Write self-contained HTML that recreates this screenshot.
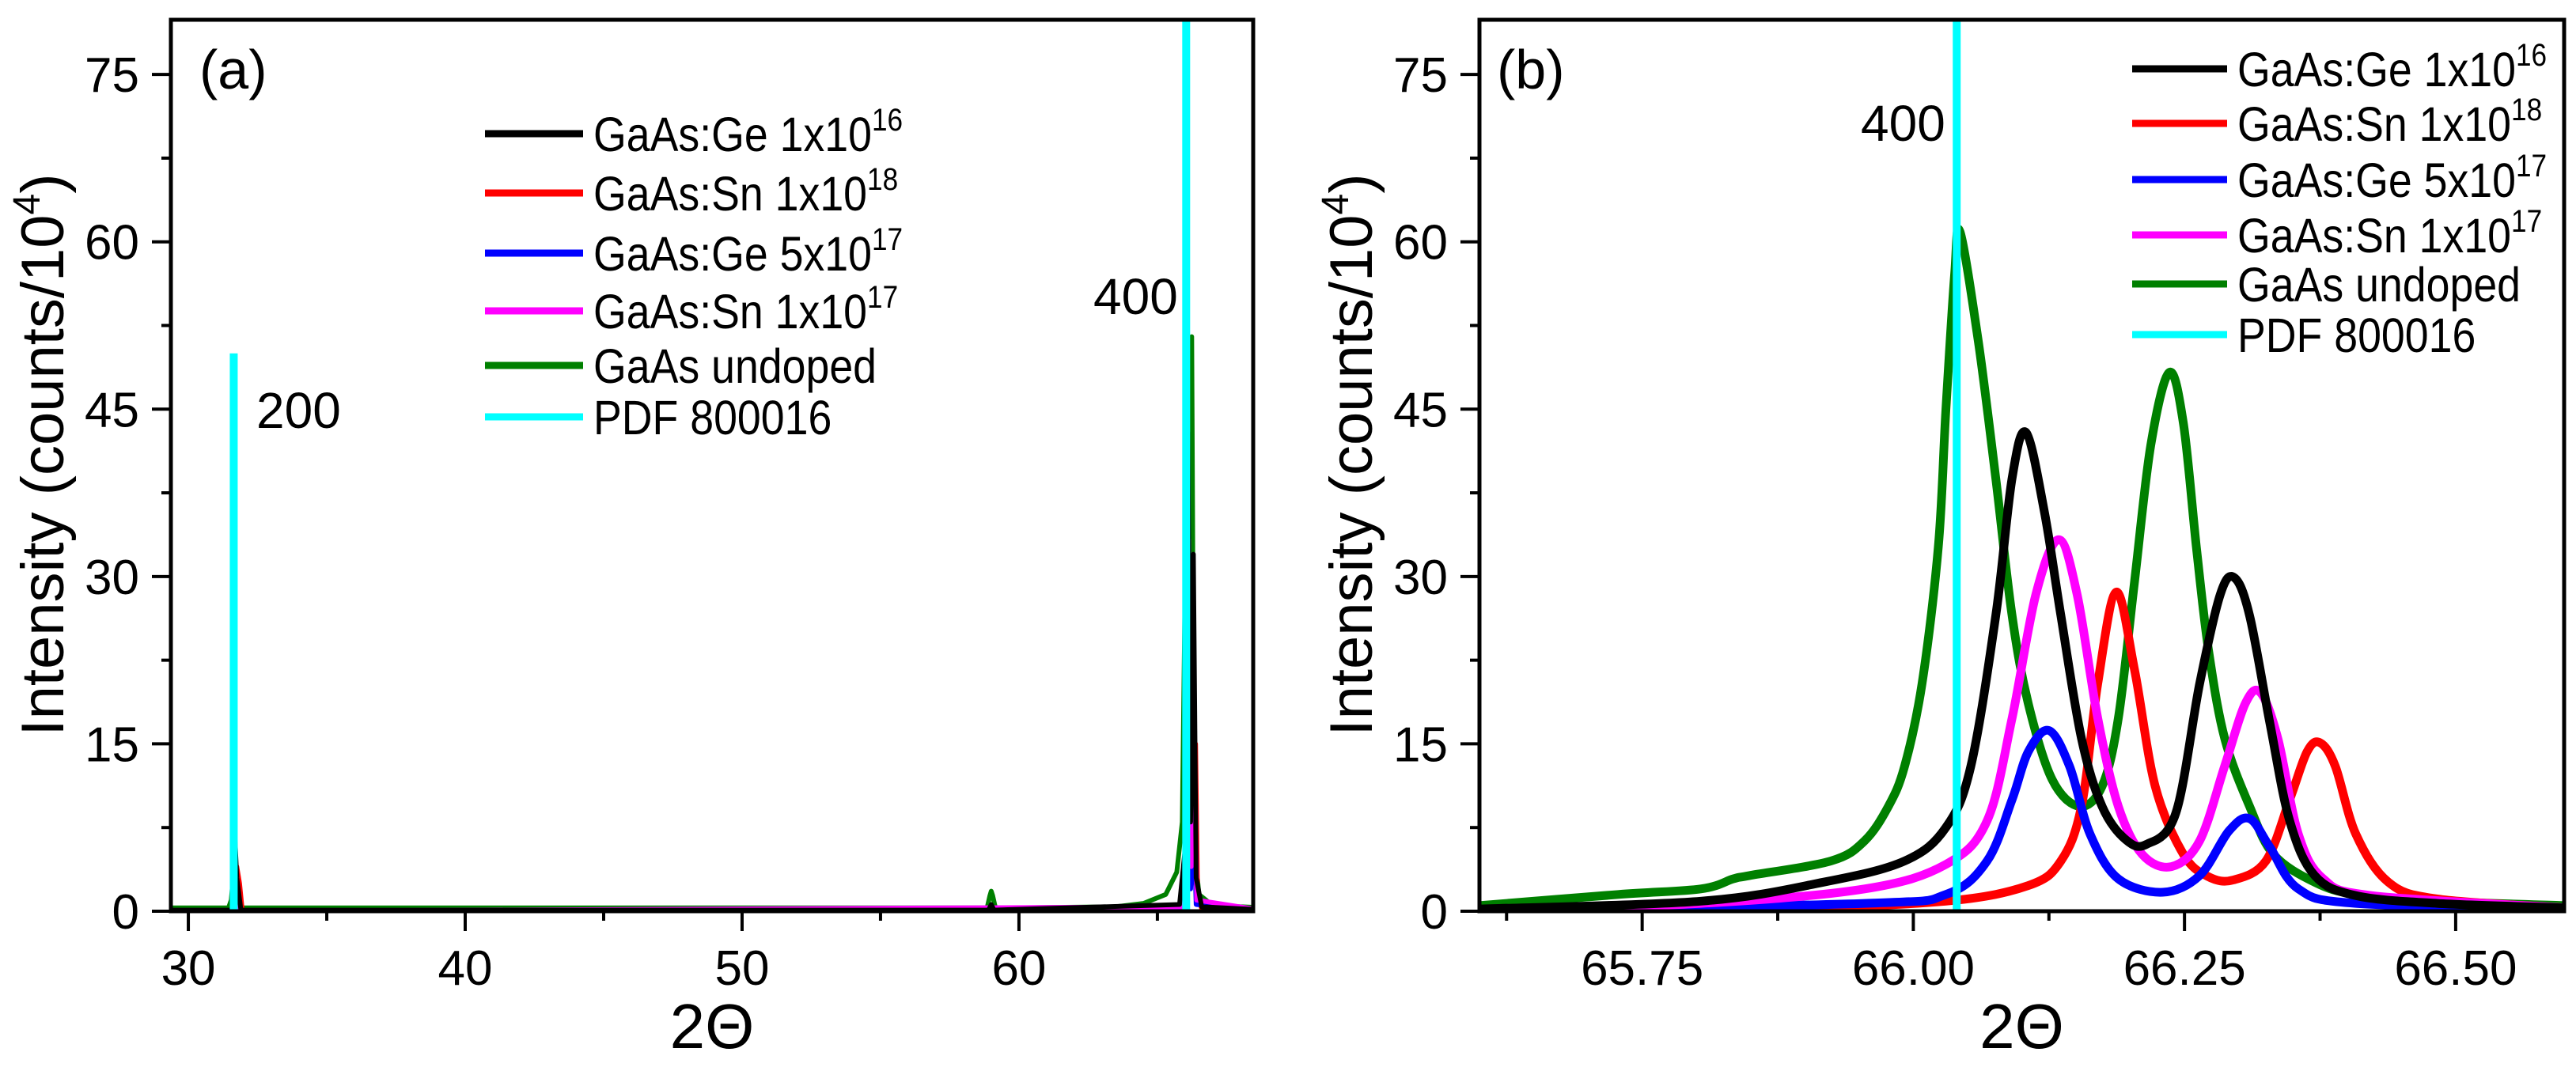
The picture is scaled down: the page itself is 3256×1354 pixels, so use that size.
<!DOCTYPE html>
<html><head><meta charset="utf-8"><style>
html,body{margin:0;padding:0;background:#fff}
svg{display:block;font-family:"Liberation Sans",Arial,sans-serif}
</style></head><body>
<svg id="fig" width="3256" height="1354" viewBox="0 0 3256 1354" xmlns="http://www.w3.org/2000/svg">
<defs>
<clipPath id="clipA"><rect x="216" y="25" width="1368" height="1127"/></clipPath>
<clipPath id="clipB"><rect x="1870" y="25" width="1371" height="1127"/></clipPath>
</defs>
<g id="panelA"></g>
<g id="panelB"></g>
</svg>
<script>
// ---------- Data ----------
const seriesNames = ["GaAs:Ge 1x10", "GaAs:Sn 1x10", "GaAs:Ge 5x10", "GaAs:Sn 1x10", "GaAs undoped", "PDF 800016"];
const seriesSup = ["16", "18", "17", "17", "", ""];
const seriesColors = ["#000000", "#ff0000", "#0000ff", "#ff00ff", "#008000", "#00ffff"];
const yTicks = [0, 15, 30, 45, 60, 75];
const yMinor = [7.5, 22.5, 37.5, 52.5, 67.5];
const xTicksA = [30, 40, 50, 60];
const xMinorA = [35, 45, 55, 65];
const xTicksB = [65.75, 66.00, 66.25, 66.50];
const xTickLabelsB = ["65.75", "66.00", "66.25", "66.50"];
const xMinorB = [65.625, 65.875, 66.125, 66.375];
const pdfPos = [31.64, 66.04];
const pdfInt = [50, 80];

// Panel (b) series
const bBlackX = [65.6,65.804,65.917,65.992,66.03,66.053,66.076,66.091,66.104,66.121,66.136,66.155,66.174,66.196,66.215,66.242,66.264,66.283,66.296,66.31,66.329,66.347,66.37,66.408,66.483,66.6];
const bBlackY = [0.2,0.9,2.6,4.5,7.5,13,26.5,38.8,42.9,35.7,26.5,15.5,9.4,6.4,6.0,8.8,20.4,28.4,29.9,26.5,16.7,8.1,3.2,1.4,0.7,0.3];
const bRedX = [65.6,65.879,66.03,66.106,66.136,66.155,66.17,66.187,66.204,66.223,66.249,66.272,66.295,66.325,66.347,66.363,66.375,66.389,66.408,66.438,66.483,66.6];
const bRedY = [0,0.3,0.9,2.3,4.5,9.4,20.4,28.6,21.6,11.2,5.1,3.1,2.8,4.5,10,14.3,15.1,13,6.9,2.6,1.1,0.3];
const bBlueX = [65.6,65.955,66.03,66.068,66.091,66.106,66.125,66.144,66.163,66.189,66.23,66.264,66.291,66.31,66.329,66.355,66.408,66.6];
const bBlueY = [0,0.7,1.5,4.5,10,14.3,16.2,13,6.9,2.9,1.7,3.2,7.2,8.3,5.7,2.0,0.7,0.2];
const bMagX = [65.6,65.804,65.955,66.03,66.068,66.091,66.113,66.134,66.151,66.17,66.189,66.211,66.238,66.264,66.287,66.306,66.32,66.336,66.355,66.378,66.423,66.6];
const bMagY = [0.1,0.7,2.0,4.2,8.1,17.3,28.4,33.3,28.4,17.3,9.4,5.1,4.0,6.3,13,18.6,19.6,15.5,6.9,2.9,1.4,0.3];
const bGreenX = [65.6,65.728,65.804,65.834,65.849,65.924,65.955,65.977,65.992,66.008,66.023,66.03,66.038,66.043,66.06,66.076,66.091,66.106,66.128,66.153,66.174,66.189,66.204,66.219,66.236,66.249,66.261,66.272,66.287,66.31,66.332,66.37,66.408,66.483,66.6];
const bGreenY = [0.5,1.5,2.0,2.9,3.2,4.5,6.3,9.4,13,20.4,32.6,44.9,57,60.9,51,38.8,26.5,18.6,11.8,9.4,11.2,17.3,29.6,41.8,48.3,43.7,32.6,23.5,15.5,9.4,5.1,2.6,1.5,0.9,0.5];

// Panel (a) series
const aBlackX = [29,31.6,31.68,31.75,31.9,58.9,59.0,59.1,65.8,66.02,66.1,66.2,66.3,66.4,66.6,69];
const aBlackY = [0.1,0.1,6.8,3,0.1,0.1,0.6,0.1,0.6,6,42.9,8,32,3,0.4,0.1];
const aRedX = [29,31.65,31.75,31.85,31.95,65.9,66.15,66.2,66.3,66.38,66.45,66.6,69];
const aRedY = [0,0,4,2.5,0,0.3,3,28.6,4,15,1.5,0.2,0];
const aBlueX = [29,31.65,31.72,31.85,65.9,66.05,66.12,66.2,66.31,66.4,69];
const aBlueY = [0,0,2,0,0.3,1.5,16.2,2,8.3,0.6,0];
const aMagX = [29,31.65,31.73,31.88,65.9,66.05,66.13,66.22,66.32,66.42,69];
const aMagY = [0,0,3,0,0.4,4,33.3,4,19.6,1,0];
const aGreenX = [29,31.45,31.55,31.62,31.7,31.8,58.85,58.95,59.0,59.05,59.15,63.5,64.5,65.3,65.7,65.9,66.04,66.15,66.24,66.33,66.5,67,69];
const aGreenY = [0.3,0.3,1,3,1,0.3,0.3,1.4,1.8,1.4,0.3,0.4,0.7,1.5,3.5,8,37,9,51.5,6,1.5,0.5,0.3];

// ---------- Helpers ----------
const NS = "http://www.w3.org/2000/svg";
function mk(tag, attrs, parent) {
  const e = document.createElementNS(NS, tag);
  for (const k in attrs) e.setAttribute(k, attrs[k]);
  parent.appendChild(e);
  return e;
}
const Y0 = 1152, Y1 = 25, YMAX = 79.9;
function yScale(v) { return Y0 - v / YMAX * (Y0 - Y1); }
function linePath(xs, ys, sx) {
  return xs.map((x, i) => (i ? "L" : "M") + sx(x).toFixed(1) + "," + yScale(ys[i]).toFixed(1)).join(" ");
}
function smoothPath(xs, ys, sx) {
  const p = xs.map((x, i) => [sx(x), yScale(ys[i])]);
  let d = "M" + p[0][0].toFixed(1) + "," + p[0][1].toFixed(1);
  for (let i = 0; i < p.length - 1; i++) {
    const p0 = p[Math.max(0, i - 1)], p1 = p[i], p2 = p[i + 1], p3 = p[Math.min(p.length - 1, i + 2)];
    const c1 = [p1[0] + (p2[0] - p0[0]) / 6, p1[1] + (p2[1] - p0[1]) / 6];
    const c2 = [p2[0] - (p3[0] - p1[0]) / 6, p2[1] - (p3[1] - p1[1]) / 6];
    d += " C" + c1[0].toFixed(1) + "," + c1[1].toFixed(1) + " " + c2[0].toFixed(1) + "," + c2[1].toFixed(1) + " " + p2[0].toFixed(1) + "," + p2[1].toFixed(1);
  }
  return d;
}

function buildPanel(g, cfg) {
  const L = cfg.left, R = cfg.right;
  const sx = v => L + (v - cfg.xmin) / (cfg.xmax - cfg.xmin) * (R - L);
  const data = mk("g", {"clip-path": "url(#" + cfg.clip + ")"}, g);
  
  
  const order = [4, 1, 2, 3, 0];
  order.forEach(i => {
    const s = cfg.series[i];
    const d = cfg.smooth ? smoothPath(s[0], s[1], sx) : linePath(s[0], s[1], sx);
    const path = mk("path", {d: d, fill: "none", stroke: seriesColors[i], "stroke-width": cfg.lw, "stroke-linejoin": "round"}, data);
    
    
  });
  pdfPos.forEach((p, i) => {
    const ln = mk("line", {x1: sx(p), x2: sx(p), y1: yScale(0) + 2, y2: yScale(pdfInt[i]), stroke: seriesColors[5], "stroke-width": cfg.pdfW}, data);
    
    
  });
  const fr = mk("rect", {x: L, y: Y1, width: R - L, height: Y0 - Y1, fill: "none", stroke: "#000", "stroke-width": 5}, g);
  
  
  yTicks.forEach(v => {
    const t = mk("line", {x1: L - 24, x2: L, y1: yScale(v), y2: yScale(v), stroke: "#000", "stroke-width": 4}, g);
    
    
    const tx = mk("text", {x: L - 40, y: yScale(v) + 22, "text-anchor": "end", "font-size": 62}, g);
    tx.textContent = v;
    
    
  });
  yMinor.forEach(v => {
    const t = mk("line", {x1: L - 12, x2: L, y1: yScale(v), y2: yScale(v), stroke: "#000", "stroke-width": 4}, g);
    
    
  });
  cfg.xTicks.forEach((v, i) => {
    const t = mk("line", {x1: sx(v), x2: sx(v), y1: Y0, y2: Y0 + 25, stroke: "#000", "stroke-width": 4}, g);
    
    
    const tx = mk("text", {x: sx(v), y: 1245, "text-anchor": "middle", "font-size": 62}, g);
    tx.textContent = cfg.xLabels[i];
    
    
  });
  cfg.xMinor.forEach(v => {
    const t = mk("line", {x1: sx(v), x2: sx(v), y1: Y0, y2: Y0 + 12, stroke: "#000", "stroke-width": 4}, g);
    
    
  });
  const xt = mk("text", {x: (L + R) / 2, y: 1325, "text-anchor": "middle", "font-size": 80}, g);
  xt.textContent = "2\u0398";
  
  
  const yt = mk("text", {x: 0, y: 0, "text-anchor": "middle", "font-size": 76, transform: "translate(" + cfg.ytX + ",575) rotate(-90)"}, g);
  yt.appendChild(document.createTextNode("Intensity (counts/10"));
  const ts = mk("tspan", {"font-size": 48, dy: -30}, yt); ts.textContent = "4";
  const ts2 = mk("tspan", {dy: 30}, yt); ts2.textContent = ")";
  
  
  const pl = mk("text", {x: cfg.plX, y: 112, "font-size": 70}, g);
  pl.textContent = cfg.label;
  
  
  cfg.legY.forEach((yy, i) => {
    const lg = mk("g", {}, g);
    
    
    mk("line", {x1: cfg.legX0, x2: cfg.legX1, y1: yy, y2: yy, stroke: seriesColors[i], "stroke-width": 9}, lg);
    const tg = mk("g", {transform: "translate(" + (cfg.legX1 + 13) + "," + (yy + 22) + ") scale(0.88,1)"}, lg);
    const tx = mk("text", {x: 0, y: 0, "font-size": 61}, tg);
    tx.textContent = seriesNames[i];
    if (seriesSup[i]) {
      const s = mk("tspan", {"font-size": 40, dy: -26}, tx);
      s.textContent = seriesSup[i];
    }
  });
  cfg.hkl.forEach(h => {
    const tx = mk("text", {x: h[0], y: h[1], "font-size": 64}, g);
    tx.textContent = h[2];
    
    
  });
}

buildPanel(document.getElementById("panelA"), {
  left: 216, right: 1584, xmin: 29.37, xmax: 68.46, clip: "clipA", lw: 6, pdfW: 10, smooth: false,
  series: [[aBlackX, aBlackY], [aRedX, aRedY], [aBlueX, aBlueY], [aMagX, aMagY], [aGreenX, aGreenY]],
  xTicks: xTicksA, xLabels: xTicksA.map(String), xMinor: xMinorA,
  ytX: 80, plX: 252, label: "(a)",
  legX0: 613, legX1: 737, legY: [169, 244, 320, 393, 462, 527],
  hkl: [[324, 541, "200"], [1382, 397, "400"]]
});
buildPanel(document.getElementById("panelB"), {
  left: 1870, right: 3241, xmin: 65.6, xmax: 66.6, clip: "clipB", lw: 11, pdfW: 10, smooth: true,
  series: [[bBlackX, bBlackY], [bRedX, bRedY], [bBlueX, bBlueY], [bMagX, bMagY], [bGreenX, bGreenY]],
  xTicks: xTicksB, xLabels: xTickLabelsB, xMinor: xMinorB,
  ytX: 1734, plX: 1892, label: "(b)",
  legX0: 2695, legX1: 2815, legY: [87, 156, 227, 297, 359, 423],
  hkl: [[2352, 178, "400"]]
});
</script>
</body></html>
